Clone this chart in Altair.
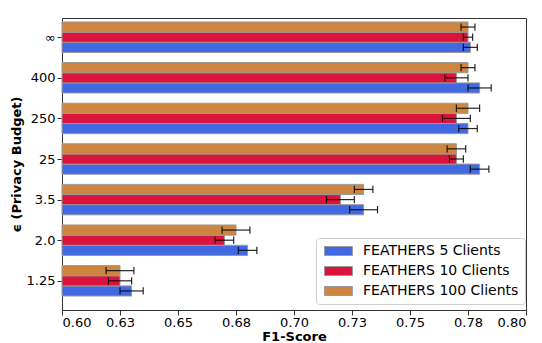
import json
import altair as alt
import pandas as pd

categories = ["∞", "400", "250", "25", "3.5", "2.0", "1.25"]
series_names = ["FEATHERS 5 Clients", "FEATHERS 10 Clients", "FEATHERS 100 Clients"]
series_colors = ["#4169E1", "#DC143C", "#CD853F"]

f1_5 = [0.776, 0.780, 0.775, 0.780, 0.730, 0.680, 0.630]
err_5 = [0.003, 0.005, 0.004, 0.004, 0.006, 0.004, 0.005]
f1_10 = [0.775, 0.770, 0.770, 0.770, 0.720, 0.670, 0.625]
err_10 = [0.002, 0.005, 0.006, 0.003, 0.006, 0.004, 0.005]
f1_100 = [0.775, 0.775, 0.775, 0.770, 0.730, 0.675, 0.625]
err_100 = [0.003, 0.003, 0.005, 0.004, 0.004, 0.006, 0.006]

x_ticks = [0.6, 0.625, 0.65, 0.675, 0.7, 0.725, 0.75, 0.775, 0.8]

n = len(categories)
bar_h = 0.25
offsets = [-0.25, 0.0, 0.25]
rows = []
for name, vals, errs, off in zip(series_names, [f1_5, f1_10, f1_100],
                                 [err_5, err_10, err_100], offsets):
    for i, c in enumerate(categories):
        pos = (n - 1 - i) + off
        rows.append(dict(series=name, cat=c, f1=vals[i], err=errs[i], pos=pos))
df = pd.DataFrame(rows)

labels_bottom_up = list(reversed(categories))
y_scale = alt.Scale(domain=[-0.719, 6.473], nice=False, zero=False)
x_scale = alt.Scale(domain=[0.6, 0.8], nice=False, zero=False)

base = alt.Chart(df).transform_calculate(
    base="0.6",
    y0=f"datum.pos - {bar_h / 2}",
    y1=f"datum.pos + {bar_h / 2}",
    lo="datum.f1 - datum.err",
    hi="datum.f1 + datum.err",
    c0="datum.pos - 0.09",
    c1="datum.pos + 0.09",
)

bars = base.mark_rect(stroke="#999999", strokeWidth=1).encode(
    x=alt.X("base:Q", scale=x_scale, title="F1-Score",
            axis=alt.Axis(values=x_ticks,
                          labelExpr="format(datum.value + 1e-9, '.2f')",
                          tickSize=5, labelPadding=1,
                          titleY=30.5, titleBaseline="alphabetic")),
    x2="f1:Q",
    y=alt.Y("y0:Q", scale=y_scale, title="ϵ (Privacy Budget)",
            axis=alt.Axis(values=list(range(n)),
                          labelExpr=f"{json.dumps(labels_bottom_up, ensure_ascii=False)}[datum.value]",
                          tickSize=5, labelPadding=2,
                          titleX=-46, titleY=146, titleAngle=270,
                          titleAlign="center", titleBaseline="middle")),
    y2="y1:Q",
    color=alt.Color("series:N",
                    scale=alt.Scale(domain=series_names, range=series_colors),
                    legend=alt.Legend(title=None, orient="none",
                                      legendX=254, legendY=220)),
)

err_line = base.mark_rule(color="black", strokeWidth=1.2, opacity=0.85).encode(
    x="lo:Q", x2="hi:Q", y="pos:Q")
cap_lo = base.mark_rule(color="black", strokeWidth=1.2, opacity=0.85).encode(
    x="lo:Q", y="c0:Q", y2="c1:Q")
cap_hi = base.mark_rule(color="black", strokeWidth=1.2, opacity=0.85).encode(
    x="hi:Q", y="c0:Q", y2="c1:Q")

chart = alt.layer(bars, err_line, cap_lo, cap_hi).properties(
    width=464, height=292,
    autosize=alt.AutoSizeParams(type="none"),
    padding={"left": 54, "top": 10, "right": 8, "bottom": 33},
).configure(
    font="DejaVu Sans",
).configure_view(
    stroke="#333333", strokeWidth=1,
).configure_axis(
    domain=False, grid=False,
    labelFont="DejaVu Sans", labelFontSize=13, labelColor="black",
    titleFont="DejaVu Sans", titleFontSize=13, titleFontWeight="bold",
    titleColor="black", tickColor="#333333",
).configure_legend(
    padding=6, fillColor="white", strokeColor="#d0d0d0", cornerRadius=3,
    labelFont="DejaVu Sans", labelFontSize=14, labelColor="black",
    symbolType="M-1,-1L5.2,-1L5.2,1L-1,1Z", symbolSize=81,
    symbolStrokeColor="#999999", symbolStrokeWidth=1, symbolOpacity=1,
    labelOffset=27, rowPadding=6,
)

chart.save("out.html", embed_options={"renderer": "svg", "actions": False})
